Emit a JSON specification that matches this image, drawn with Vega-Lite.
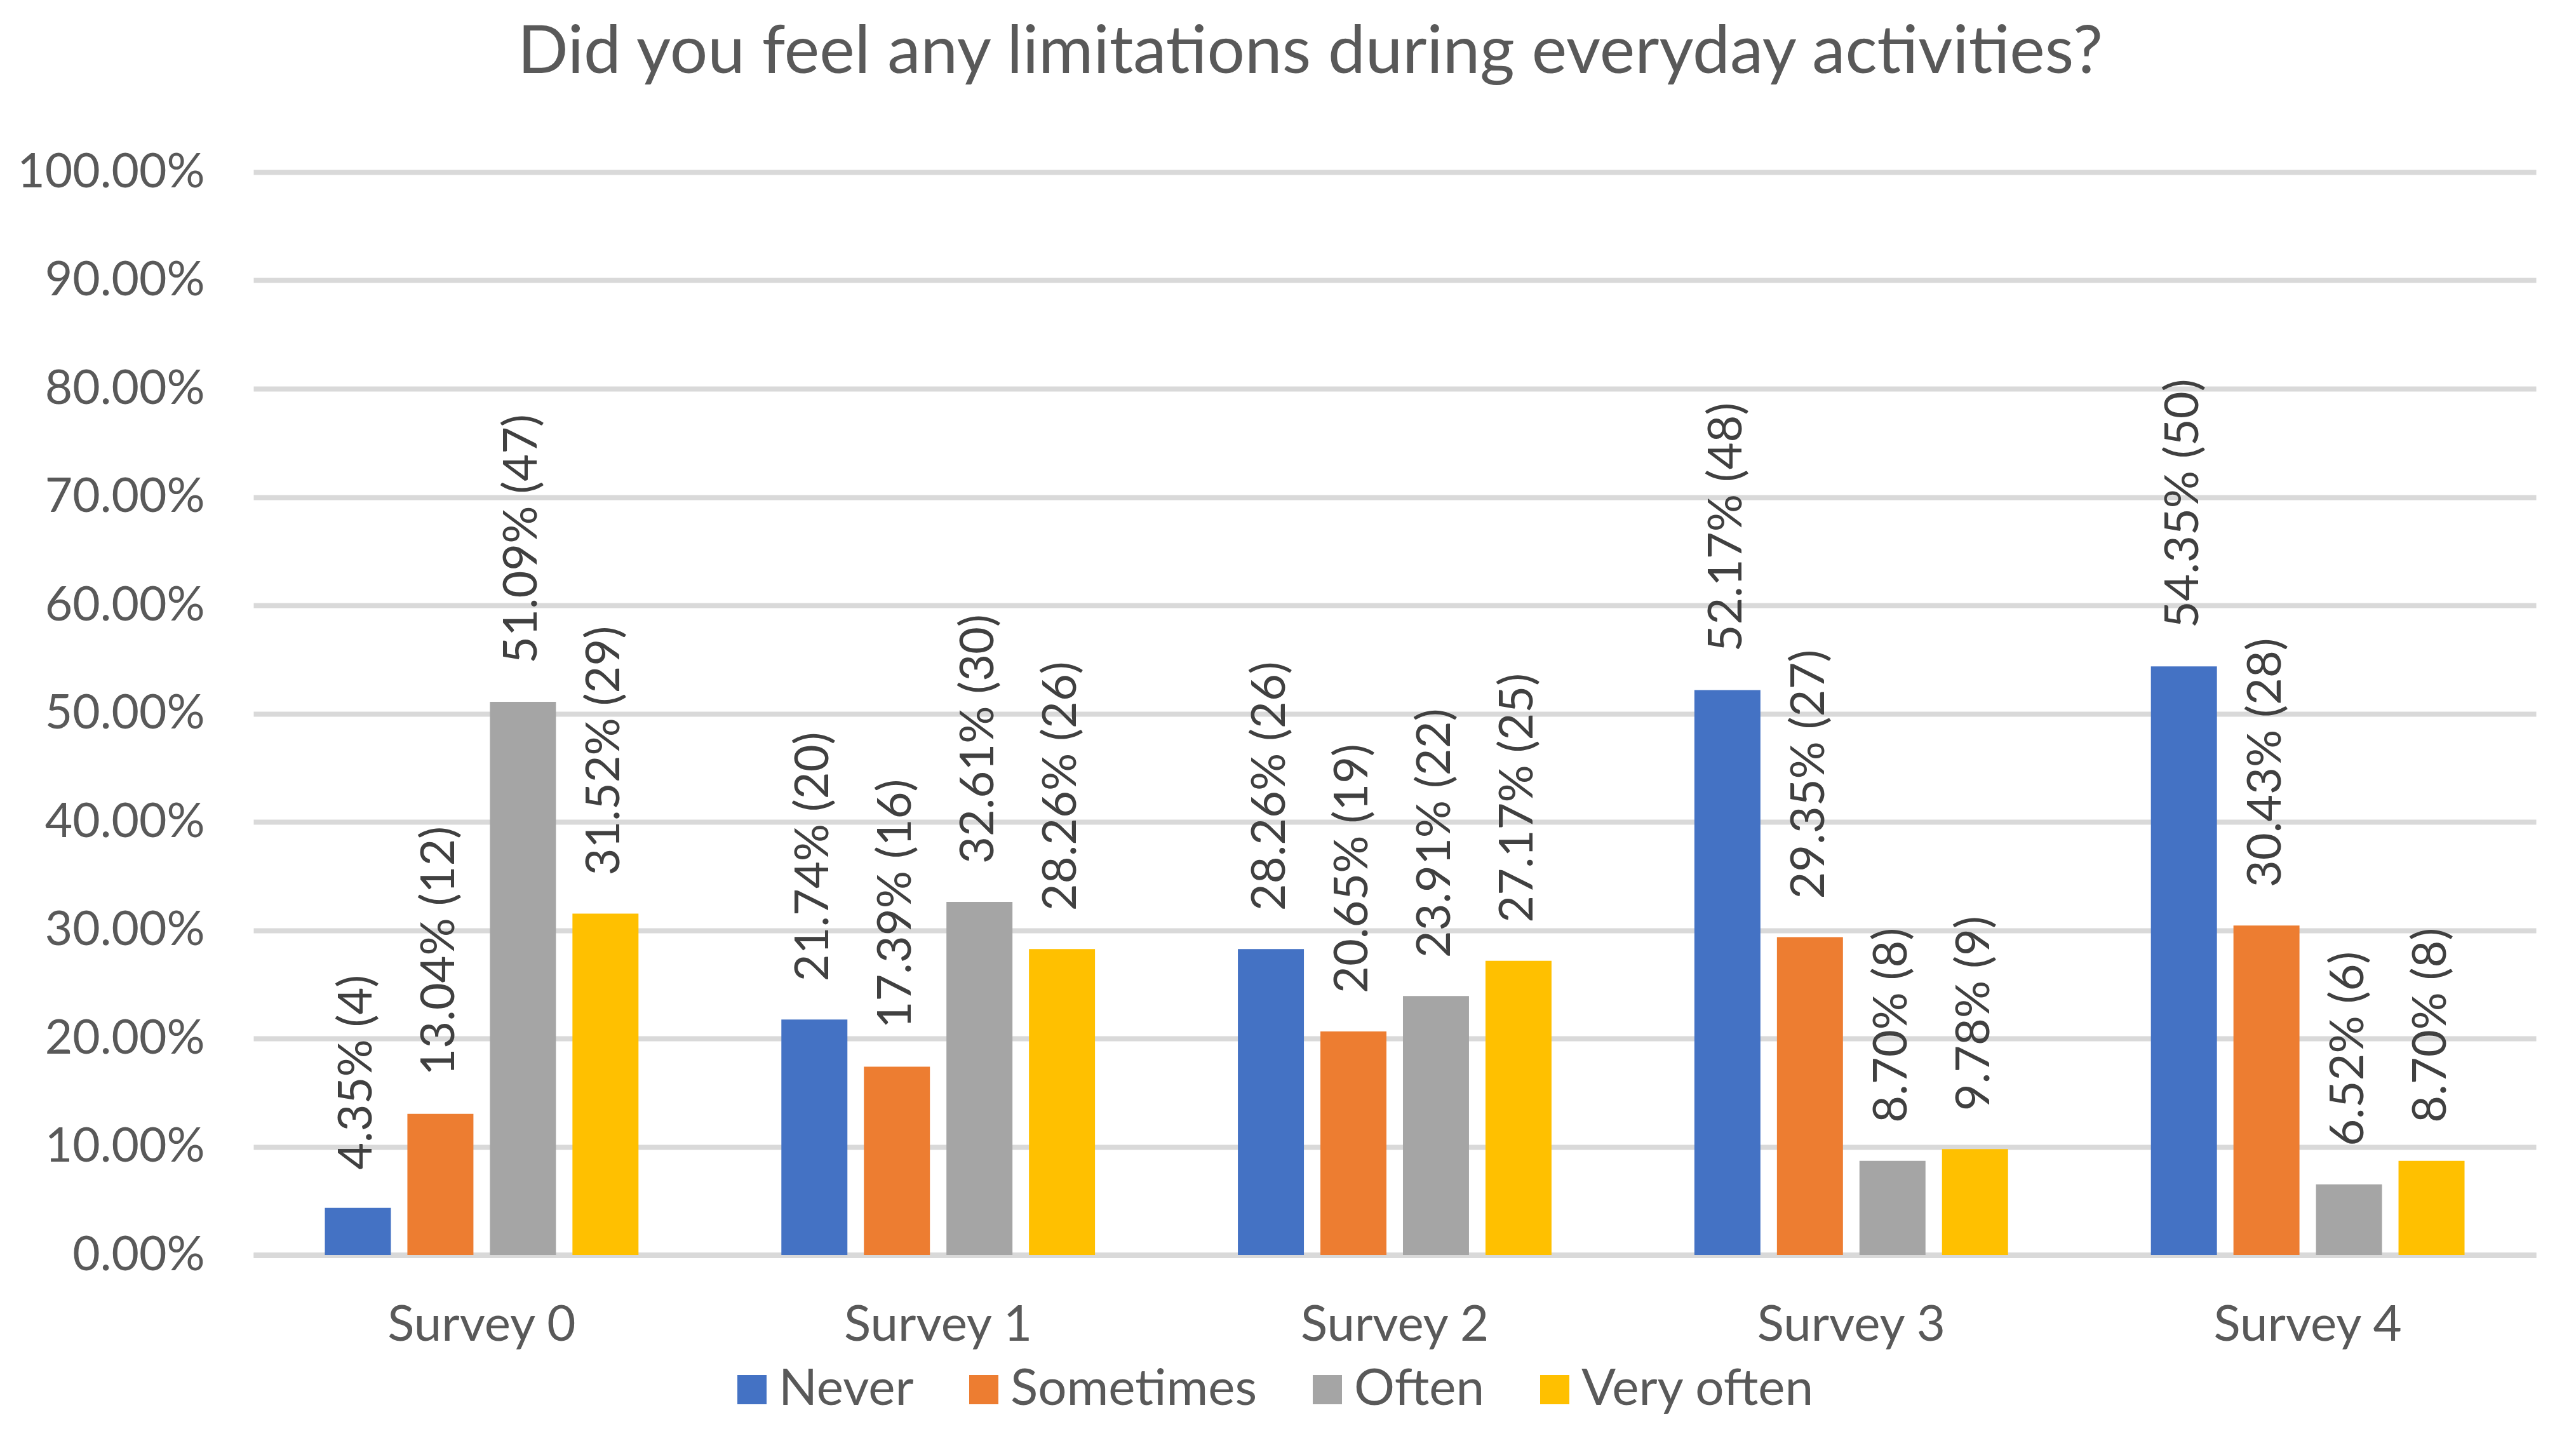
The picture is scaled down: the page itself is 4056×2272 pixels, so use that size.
{
  "$schema": "https://vega.github.io/schema/vega-lite/v6.json",
  "width": 3594,
  "height": 1705,
  "autosize": {"type": "none"},
  "padding": {"left": 399, "top": 271, "right": 63, "bottom": 296},
  "background": "white",
  "config": {"view": {"stroke": null}, "font": "Lato"},
  "title": {
    "text": "Did you feel any limitations during everyday activities?",
    "font": "Lato",
    "fontSize": 105,
    "fontWeight": "normal",
    "color": "#595959",
    "anchor": "middle",
    "frame": "group",
    "dx": -133,
    "offset": -8,
    "baseline": "bottom",
    "limit": 0
  },
  "data": {
    "values": [
      {"survey": "Survey 0", "response": "Never", "pct": 0.0435, "label": "4.35% (4)"},
      {"survey": "Survey 0", "response": "Sometimes", "pct": 0.1304, "label": "13.04% (12)"},
      {"survey": "Survey 0", "response": "Often", "pct": 0.5109, "label": "51.09% (47)"},
      {"survey": "Survey 0", "response": "Very often", "pct": 0.3152, "label": "31.52% (29)"},
      {"survey": "Survey 1", "response": "Never", "pct": 0.2174, "label": "21.74% (20)"},
      {"survey": "Survey 1", "response": "Sometimes", "pct": 0.1739, "label": "17.39% (16)"},
      {"survey": "Survey 1", "response": "Often", "pct": 0.3261, "label": "32.61% (30)"},
      {"survey": "Survey 1", "response": "Very often", "pct": 0.2826, "label": "28.26% (26)"},
      {"survey": "Survey 2", "response": "Never", "pct": 0.2826, "label": "28.26% (26)"},
      {"survey": "Survey 2", "response": "Sometimes", "pct": 0.2065, "label": "20.65% (19)"},
      {"survey": "Survey 2", "response": "Often", "pct": 0.2391, "label": "23.91% (22)"},
      {"survey": "Survey 2", "response": "Very often", "pct": 0.2717, "label": "27.17% (25)"},
      {"survey": "Survey 3", "response": "Never", "pct": 0.5217, "label": "52.17% (48)"},
      {"survey": "Survey 3", "response": "Sometimes", "pct": 0.2935, "label": "29.35% (27)"},
      {"survey": "Survey 3", "response": "Often", "pct": 0.087, "label": "8.70% (8)"},
      {"survey": "Survey 3", "response": "Very often", "pct": 0.0978, "label": "9.78% (9)"},
      {"survey": "Survey 4", "response": "Never", "pct": 0.5435, "label": "54.35% (50)"},
      {"survey": "Survey 4", "response": "Sometimes", "pct": 0.3043, "label": "30.43% (28)"},
      {"survey": "Survey 4", "response": "Often", "pct": 0.0652, "label": "6.52% (6)"},
      {"survey": "Survey 4", "response": "Very often", "pct": 0.087, "label": "8.70% (8)"}
    ]
  },
  "encoding": {
    "x": {
      "field": "survey",
      "type": "nominal",
      "scale": {"paddingInner": 0.313, "paddingOuter": 0.1565},
      "axis": {
        "title": null,
        "labelAngle": 0,
        "labelFont": "Lato",
        "labelFontSize": 78,
        "labelColor": "#595959",
        "labelPadding": 72,
        "labelLimit": 0,
        "ticks": false,
        "domain": true,
        "domainColor": "#D9D9D9",
        "domainWidth": 9,
        "grid": false
      }
    },
    "xOffset": {
      "field": "response",
      "type": "nominal",
      "sort": ["Never", "Sometimes", "Often", "Very often"],
      "scale": {"paddingInner": 0.2, "paddingOuter": 0}
    },
    "y": {
      "field": "pct",
      "type": "quantitative",
      "scale": {"domain": [0, 1], "nice": false},
      "axis": {
        "title": null,
        "format": ".2%",
        "values": [0, 0.1, 0.2, 0.3, 0.4, 0.5, 0.6, 0.7, 0.8, 0.9, 1],
        "labelFont": "Lato",
        "labelFontSize": 75,
        "labelColor": "#595959",
        "labelPadding": 77,
        "labelLimit": 0,
        "ticks": false,
        "domain": false,
        "grid": true,
        "gridColor": "#D9D9D9",
        "gridWidth": 8
      }
    }
  },
  "layer": [
    {
      "mark": {"type": "bar"},
      "encoding": {
        "color": {
          "field": "response",
          "type": "nominal",
          "scale": {
            "domain": ["Never", "Sometimes", "Often", "Very often"],
            "range": ["#4472C4", "#ED7D31", "#A5A5A5", "#FFC000"]
          },
          "legend": {
            "title": null,
            "orient": "none",
            "direction": "horizontal",
            "legendX": 745,
            "legendY": 1877,
            "padding": 0,
            "symbolType": "square",
            "symbolSize": 2116,
            "symbolStrokeWidth": 0,
            "symbolOpacity": 1,
            "labelFont": "Lato",
            "labelFontSize": 80,
            "labelColor": "#595959",
            "labelOffset": 2,
            "labelLimit": 0,
            "columnPadding": 70
          }
        }
      }
    },
    {
      "mark": {
        "type": "text",
        "angle": 270,
        "align": "left",
        "baseline": "middle",
        "dx": 60,
        "font": "Lato",
        "fontSize": 74,
        "color": "#404040"
      },
      "encoding": {"text": {"field": "label"}}
    }
  ]
}
